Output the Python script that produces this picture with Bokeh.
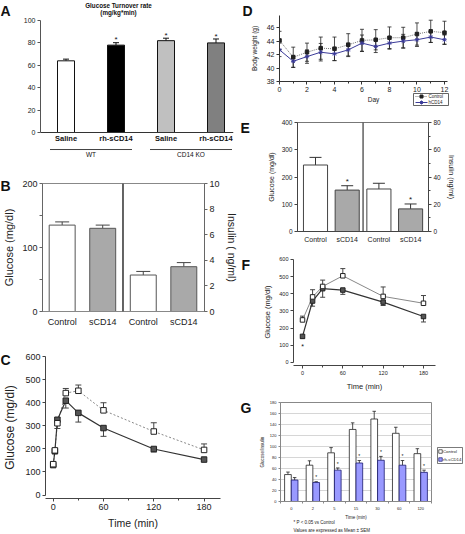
from bokeh.plotting import figure
from bokeh.layouts import row, column
from bokeh.models import (Range1d, LinearAxis, FixedTicker, Whisker, TeeHead, GridBox,
                          ColumnDataSource, Span)
from bokeh.core.properties import value
from bokeh.embed import file_html
from bokeh.resources import INLINE

# ---------------- data ----------------
a_treat = ["Saline", "rh-sCD14", "Saline", "rh-sCD14"]
a_geno = ["WT", "CD14 KO"]
a_rate = [64, 78, 82, 80]
a_rate_err = [1.5, 2.2, 2.2, 3.5]
a_sig = [False, True, True, True]

b_groups = ["Control", "sCD14"]
b_glucose = [135, 130]
b_glucose_err = [5, 5]
b_insulin = [2.85, 3.5]
b_insulin_err = [0.28, 0.32]

c_time = [0, 2, 5, 15, 30, 60, 120, 180]
c_control = [134, 194, 312, 443, 453, 368, 276, 196]
c_control_err = [10, 8, 8, 20, 25, 33, 38, 26]
c_scd14 = [130, 190, 327, 410, 357, 291, 200, 154]
c_scd14_err = [5, 5, 38, 32, 40, 36, 13, 6]

d_day = [0, 1, 2, 3, 4, 5, 6, 7, 8, 9, 10, 11, 12]
d_control = [44.1, 41.6, 42.35, 42.95, 42.85, 43.45, 44.1, 44.2, 44.5, 44.5, 45.05, 45.45, 45.25]
d_control_err = [1.35, 1.5, 1.35, 1.65, 1.75, 1.65, 1.65, 1.5, 1.6, 1.55, 1.65, 1.65, 1.7]
d_hcd14 = [42.7, 41.0, 41.7, 42.35, 42.1, 42.7, 43.7, 43.2, 43.7, 44.0, 44.2, 44.6, 44.2]
d_hcd14_err = [1.0, 0.9, 1.0, 1.3, 1.0, 1.0, 1.2, 0.9, 0.9, 1.0, 1.0, 0.8, 0.7]
d_series = ["Control", "hCD14"]

e_groups = ["Control", "sCD14"]
e_glucose = [244, 152]
e_glucose_err = [28, 16]
e_insulin = [31.2, 16.6]
e_insulin_err = [4.2, 3.6]
e_sig = [False, True]

f_time = [0, 15, 30, 60, 120, 180]
f_control = [248, 382, 443, 505, 385, 345]
f_control_err = [22, 42, 37, 42, 55, 45]
f_scd14 = [152, 358, 430, 422, 352, 268]
f_scd14_err = [10, 30, 50, 25, 20, 32]

g_time = ["0", "2", "5", "15", "30", "60", "120"]
g_control = [49, 66, 88.5, 131, 150, 124, 87]
g_control_err = [4.5, 8, 9.5, 12, 14, 11, 9]
g_rh = [39, 34.5, 57, 70, 75, 66, 53]
g_rh_err = [4.5, 1.5, 4, 4.5, 7, 8.5, 4]
g_sig = [False, True, True, True, True, True, True]
g_series = ["Control", "rh-sCD14"]

panel_letters = ["A", "B", "C", "D", "E", "F", "G"]
title_a = ["Glucose Turnover rate", "(mg/kg*min)"]
footnotes_g = ["* P < 0.05 vs Control", "Values are expressed as Mean \u00b1 SEM"]

# ---------------- helpers ----------------
FONT = "Liberation Sans"
PAGE_W, PAGE_H = 465, 534
REF_W, REF_H = 465, 534
SX = PAGE_W / REF_W
SY = PAGE_H / REF_H

D_CTRL_COL, D_H_COL = "#777777", "#3b3b98"
G_CTRL_FILL, G_RH_FILL, G_RH_LINE = "white", "#9999ff", "#1a1a70"


def fs(px):
    return f"{px * SY:.2f}px"


def make_fig(box, frame, xr, yr):
    bx0, by0, bx1, by1 = box
    fx0, fy0, fx1, fy1 = frame
    p = figure(width=round(bx1 * SX) - round(bx0 * SX),
               height=round(by1 * SY) - round(by0 * SY),
               min_border_left=round(fx0 * SX) - round(bx0 * SX),
               min_border_right=round(bx1 * SX) - round(fx1 * SX),
               min_border_top=round(fy0 * SY) - round(by0 * SY),
               min_border_bottom=round(by1 * SY) - round(fy1 * SY),
               x_range=Range1d(*xr), y_range=Range1d(*yr),
               output_backend="svg", toolbar_location=None)
    if "frame_align" in p.properties():
        p.frame_align = False
    p.grid.visible = False
    p.outline_line_color = None
    p.background_fill_color = "white"
    p.border_fill_color = "white"
    p.title.visible = False
    return p


def style_axis(ax, tick_fs, label_fs=None, color="#444", tick_out=3, minor_out=2,
               standoff=2, label_standoff=3):
    ax.axis_line_color = color
    ax.axis_line_width = 1
    ax.major_tick_line_color = color
    ax.minor_tick_line_color = color
    ax.major_tick_in = 0
    ax.major_tick_out = tick_out
    ax.minor_tick_in = 0
    ax.minor_tick_out = minor_out
    ax.major_label_text_font = FONT
    ax.major_label_text_font_size = fs(tick_fs)
    ax.major_label_text_color = "#222"
    ax.major_label_standoff = standoff
    ax.axis_label_text_font = FONT
    ax.axis_label_text_font_style = "normal"
    ax.axis_label_text_color = "#222"
    if label_fs:
        ax.axis_label_text_font_size = fs(label_fs)
    ax.axis_label_standoff = label_standoff


def whisk(p, x, lo, hi, color, size, up=True, down=False, width=1, **kw):
    src = ColumnDataSource(dict(x=x, lo=lo, hi=hi))
    w = Whisker(source=src, base="x", lower="lo", upper="hi", line_color=color,
                line_width=width,
                upper_head=TeeHead(size=size, line_color=color, line_width=width) if up else None,
                lower_head=TeeHead(size=size, line_color=color, line_width=width) if down else None,
                **kw)
    p.add_layout(w)


def stars(p, xs, ys, size, **kw):
    p.text(x=xs, y=ys, text=["*"] * len(xs), text_font=value(FONT), text_font_size=fs(size),
           text_align="center", text_baseline="middle", text_color="#111", **kw)


# ---------------- Panel A ----------------
boxA = (0, 0, 240, 163)
frA = (40, 20, 233, 160)
pA = make_fig(boxA, frA, (0.49, 4.35), (-25.0, 100))
xa = [i + 1 for i in range(len(a_rate))]
pA.vbar(x=xa, top=a_rate, width=0.34, bottom=0,
        fill_color=["#ffffff", "#000000", "#c0c0c0", "#808080"], line_color="#111", line_width=1)
whisk(pA, xa, a_rate, [v + e for v, e in zip(a_rate, a_rate_err)], "#111", 6)
stars(pA, [x for x, s in zip(xa, a_sig) if s],
      [v + e + 2.5 for v, e, s in zip(a_rate, a_rate_err, a_sig) if s], 8)
pA.add_layout(Span(location=0, dimension="width", line_color="#333", line_width=1))
pA.text(x=xa, y=[-5.6] * len(xa), text=a_treat, text_font=value(FONT), text_font_size=fs(7.5),
        text_font_style="bold", text_align="center", text_baseline="middle", text_color="#111")
ga = [1.5, 3.5]
pA.segment(x0=[g - 0.82 for g in ga], x1=[g + 0.82 for g in ga], y0=[-15.2] * 2, y1=[-15.2] * 2,
           line_color="#111", line_width=0.8)
pA.text(x=ga, y=[-19.8] * 2, text=a_geno, text_font=value(FONT), text_font_size=fs(6.5),
        text_align="center", text_baseline="middle", text_color="#111")
pA.xaxis.visible = False
ya = pA.yaxis[0]
ya.ticker = FixedTicker(ticks=[0, 20, 40, 60, 80, 100])
ya.bounds = (0, 100)
style_axis(ya, 7, color="#555")

# ---------------- Panel B ----------------
boxB = (0, 163, 240, 330)
frB = (40, 183, 209, 311)
pB = make_fig(boxB, frB, (0.515, 4.51), (0, 200))
pB.extra_y_ranges = {"ins": Range1d(0, 10)}
pB.outline_line_color = "#888"
xg = [1, 2]
xi = [3, 4]
bar_cols = ["#ffffff", "#a9a9a9"]
pB.vbar(x=xg, top=b_glucose, width=0.64, fill_color=bar_cols, line_color="#555", line_width=1)
pB.vbar(x=xi, top=b_insulin, width=0.64, fill_color=bar_cols, line_color="#555", line_width=1,
        y_range_name="ins")
whisk(pB, xg, b_glucose, [v + e for v, e in zip(b_glucose, b_glucose_err)], "#444", 14)
whisk(pB, xi, b_insulin, [v + e for v, e in zip(b_insulin, b_insulin_err)], "#444", 14,
      y_range_name="ins")
pB.add_layout(Span(location=2.5, dimension="height", line_color="#111", line_width=1.3))
xb = pB.xaxis[0]
xb.ticker = FixedTicker(ticks=xg + xi)
xb.major_label_overrides = {1: b_groups[0], 2: b_groups[1], 3: b_groups[0], 4: b_groups[1]}
style_axis(xb, 9, color="#888", tick_out=0, standoff=5)
xb.major_tick_line_color = None
yb = pB.yaxis[0]
yb.ticker = FixedTicker(ticks=[0, 50, 100, 150, 200])
yb.major_label_overrides = {50: "", 150: ""}
yb.axis_label = "Glucose (mg/dl)"
style_axis(yb, 9, 11, color="#666", standoff=2, label_standoff=4)
rb = LinearAxis(y_range_name="ins", ticker=FixedTicker(ticks=[0, 2, 4, 6, 8, 10]),
                axis_label="Insulin ( ng/ml)")
style_axis(rb, 9, 10.5, color="#666", standoff=2, label_standoff=3)
pB.add_layout(rb, "right")

# ---------------- Panel C ----------------
boxC = (0, 330, 240, 534)
frC = (39, 356, 220, 498)
pC = make_fig(boxC, frC, (-9.2, 199.6), (-15.2, 602))
pC.line(c_time, c_control, line_color="#888", line_width=1, line_dash="2 2")
pC.line(c_time, c_scd14, line_color="#333", line_width=1.2)
whisk(pC, c_time, c_control, [v + e for v, e in zip(c_control, c_control_err)], "#444", 6)
whisk(pC, c_time, [v - e for v, e in zip(c_scd14, c_scd14_err)], c_scd14, "#444", 6,
      up=False, down=True)
pC.scatter(c_time, c_scd14, marker="square", size=5.5, fill_color="#555", line_color="#222")
pC.scatter(c_time, c_control, marker="square", size=5.5, fill_color="white", line_color="#222")
xc = pC.xaxis[0]
xc.ticker = FixedTicker(ticks=[0, 60, 120, 180], minor_ticks=[30, 90, 150])
xc.axis_label = "Time (min)"
style_axis(xc, 9, 10.5, color="#444", standoff=2, label_standoff=4)
ycx = pC.yaxis[0]
ycx.ticker = FixedTicker(ticks=[0, 100, 200, 300, 400, 500, 600])
ycx.bounds = (0, 600)
ycx.axis_label = "Glucose (mg/dl)"
style_axis(ycx, 9, 12, color="#444", standoff=2, label_standoff=5)

# ---------------- Panel D ----------------
boxD = (240, 0, 465, 112)
frD = (279, 15, 447, 81)
pD = make_fig(boxD, frD, (0, 12.22), (38, 47.8))
pD.line(d_day, d_control, line_color=D_CTRL_COL, line_width=1, line_dash="1 1")
pD.line(d_day, d_hcd14, line_color=D_H_COL, line_width=1)
whisk(pD, d_day, [v - e for v, e in zip(d_control, d_control_err)],
      [v + e for v, e in zip(d_control, d_control_err)], "#222", 4, up=True, down=True, width=0.8)
whisk(pD, d_day, [v - e for v, e in zip(d_hcd14, d_hcd14_err)],
      [v + e for v, e in zip(d_hcd14, d_hcd14_err)], "#222", 4, up=True, down=True, width=0.8)
pD.scatter(d_day, d_control, marker="square", size=3.5, fill_color="#222", line_color="#222")
pD.scatter(d_day, d_hcd14, marker="asterisk", size=4.5, line_color=D_H_COL, line_width=1)
xd = pD.xaxis[0]
xd.ticker = FixedTicker(ticks=[0, 2, 4, 6, 8, 10, 12], minor_ticks=[1, 3, 5, 7, 9, 11])
style_axis(xd, 7, color="#333", standoff=2)
yd = pD.yaxis[0]
yd.ticker = FixedTicker(ticks=[38, 40, 42, 44, 46])
yd.axis_label = "Body weight (g)"
style_axis(yd, 7, 6.5, color="#333", standoff=2, label_standoff=6)

# ---------------- Panel E ----------------
boxE = (240, 112, 465, 250)
frE = (297, 122, 428, 231)
pE = make_fig(boxE, frE, (0.432, 4.565), (0, 400))
pE.extra_y_ranges = {"ins": Range1d(0, 80)}
pE.outline_line_color = "#777"
pE.vbar(x=xg, top=e_glucose, width=0.76, fill_color=bar_cols, line_color="#444", line_width=1)
pE.vbar(x=xi, top=e_insulin, width=0.76, fill_color=bar_cols, line_color="#444", line_width=1,
        y_range_name="ins")
whisk(pE, xg, e_glucose, [v + e for v, e in zip(e_glucose, e_glucose_err)], "#333", 12)
whisk(pE, xi, e_insulin, [v + e for v, e in zip(e_insulin, e_insulin_err)], "#333", 12,
      y_range_name="ins")
stars(pE, [x for x, s in zip(xg, e_sig) if s],
      [v + e + 17 for v, e, s in zip(e_glucose, e_glucose_err, e_sig) if s], 8)
stars(pE, [x for x, s in zip(xi, e_sig) if s],
      [v + e + 3.2 for v, e, s in zip(e_insulin, e_insulin_err, e_sig) if s], 8,
      y_range_name="ins")
pE.add_layout(Span(location=2.5, dimension="height", line_color="#111", line_width=1))
xe = pE.xaxis[0]
xe.ticker = FixedTicker(ticks=xg + xi)
xe.major_label_overrides = {1: e_groups[0], 2: e_groups[1], 3: e_groups[0], 4: e_groups[1]}
style_axis(xe, 7, color="#444", tick_out=0, standoff=4)
xe.major_tick_line_color = None
ye = pE.yaxis[0]
ye.ticker = FixedTicker(ticks=[0, 100, 200, 300, 400])
ye.axis_label = "Glucose (mg/dl)"
style_axis(ye, 6.5, 7, color="#444", standoff=2, label_standoff=4)
re_ = LinearAxis(y_range_name="ins", ticker=FixedTicker(ticks=[0, 20, 40, 60, 80],
                                                       minor_ticks=[10, 30, 50, 70]),
                 axis_label="Insulin (ng/ml)")
style_axis(re_, 6.5, 7, color="#444", standoff=2, label_standoff=4)
pE.add_layout(re_, "right")

# ---------------- Panel F ----------------
boxF = (240, 250, 465, 395)
frF = (293, 258, 435, 365)
pF = make_fig(boxF, frF, (-13.4, 197.9), (-17.5, 605.8))
pF.line(f_time, f_control, line_color="#888", line_width=1)
pF.line(f_time, f_scd14, line_color="#333", line_width=1.2)
whisk(pF, f_time, f_control, [v + e for v, e in zip(f_control, f_control_err)], "#444", 5)
whisk(pF, f_time, [v - e for v, e in zip(f_scd14, f_scd14_err)], f_scd14, "#444", 5,
      up=False, down=True)
pF.scatter(f_time, f_scd14, marker="square", size=4.5, fill_color="#555", line_color="#222")
pF.scatter(f_time, f_control, marker="square", size=4.5, fill_color="white", line_color="#222")
stars(pF, [f_time[0]], [f_scd14[0] - f_scd14_err[0] - 48], 7)
xf = pF.xaxis[0]
xf.ticker = FixedTicker(ticks=[0, 60, 120, 180], minor_ticks=[30, 90, 150])
xf.axis_label = "Time (min)"
style_axis(xf, 5.5, 7.5, color="#444", standoff=2, label_standoff=4)
yf = pF.yaxis[0]
yf.ticker = FixedTicker(ticks=[0, 100, 200, 300, 400, 500, 600])
yf.bounds = (0, 600)
yf.axis_label = "Glucose (mg/dl)"
style_axis(yf, 5.5, 7.5, color="#444", standoff=2, label_standoff=4)

# ---------------- Panel G ----------------
boxG = (240, 395, 465, 534)
frG = (280, 402, 431, 501)
pG = make_fig(boxG, frG, (-0.5, len(g_time) - 0.5), (0, 180))
pG.outline_line_color = "#888"
pG.ygrid.visible = True
pG.ygrid.grid_line_color = "#c4c4c4"
pG.ygrid.grid_line_width = 0.7
xgi = list(range(len(g_time)))
xgc = [x - 0.155 for x in xgi]
xgr = [x + 0.155 for x in xgi]
pG.vbar(x=xgc, top=g_control, width=0.31, fill_color=G_CTRL_FILL, line_color="#222", line_width=0.8)
pG.vbar(x=xgr, top=g_rh, width=0.31, fill_color=G_RH_FILL, line_color=G_RH_LINE, line_width=0.8)
whisk(pG, xgc, g_control, [v + e for v, e in zip(g_control, g_control_err)], "#222", 3.5, width=0.8)
whisk(pG, xgr, g_rh, [v + e for v, e in zip(g_rh, g_rh_err)], "#222", 3.5, width=0.8)
stars(pG, [x for x, s in zip(xgr, g_sig) if s],
      [v + e + 8 for v, e, s in zip(g_rh, g_rh_err, g_sig) if s], 5)
xgax = pG.xaxis[0]
xgax.ticker = FixedTicker(ticks=xgi, minor_ticks=[x - 0.5 for x in xgi] + [len(g_time) - 0.5])
xgax.major_label_overrides = {i: t for i, t in enumerate(g_time)}
xgax.axis_label = "Time (min)"
style_axis(xgax, 4, 4.5, color="#888", tick_out=0, minor_out=2, standoff=3, label_standoff=2)
xgax.major_tick_line_color = None
ygax = pG.yaxis[0]
ygax.ticker = FixedTicker(ticks=[0, 20, 40, 60, 80, 100, 120, 140, 160, 180])
ygax.axis_label = "Glucose/Insulin"
style_axis(ygax, 4, 4.5, color="#888", tick_out=2, standoff=2, label_standoff=2)

# ---------------- overlay: texts and legends outside the plot frames ----------------
ov = figure(width=PAGE_W, height=PAGE_H, x_range=Range1d(0, REF_W), y_range=Range1d(REF_H, 0),
            min_border=0, output_backend="svg", toolbar_location=None)
if "frame_align" in ov.properties():
    ov.frame_align = False
ov.axis.visible = False
ov.grid.visible = False
ov.title.visible = False
ov.outline_line_color = None
ov.background_fill_alpha = 0
ov.border_fill_alpha = 0
ov.text(x=[0, 0, 0, 242, 240, 241, 240], y=[2, 177, 351, 2, 119, 256, 399], text=panel_letters,
        text_font=value(FONT), text_font_size=fs(14), text_font_style="bold",
        text_align="left", text_baseline="top", text_color="#111")
ov.text(x=[118, 118], y=[1, 8.5], text=title_a, text_font=value(FONT), text_font_size=fs(6.3),
        text_font_style="bold", text_align="center", text_baseline="top", text_color="#111")
ov.text(x=[373], y=[99], text=["Day"], text_font=value(FONT), text_font_size=fs(6.5),
        text_align="center", text_baseline="middle", text_color="#222")
ov.text(x=[293, 293], y=[522, 529.5], text=footnotes_g, text_font=value(FONT),
        text_font_size=fs(4.5), text_align="left", text_baseline="middle", text_color="#222")

# legend of panel D
ov.quad(left=[413], right=[448], top=[93], bottom=[105], fill_color="white",
        line_color="#222", line_width=0.7)
ov.line(x=[415, 427], y=[96, 96], line_color=D_CTRL_COL, line_width=1, line_dash="1 1")
ov.scatter(x=[421], y=[96], marker="square", size=3, fill_color="#222", line_color="#222")
ov.line(x=[415, 427], y=[102, 102], line_color=D_H_COL, line_width=1)
ov.scatter(x=[421], y=[102], marker="asterisk", size=4, line_color=D_H_COL, line_width=1)
ov.text(x=[428, 428], y=[96, 102], text=d_series, text_font=value(FONT),
        text_font_size=fs(4.5), text_align="left", text_baseline="middle", text_color="#222")

# legend of panel G
ov.quad(left=[437], right=[462], top=[447], bottom=[463], fill_color="white",
        line_color="#222", line_width=0.6)
ov.scatter(x=[440, 440], y=[451, 459], marker="square", size=3.5,
           fill_color=[G_CTRL_FILL, G_RH_FILL], line_color=["#222", G_RH_LINE], line_width=0.7)
ov.text(x=[442.5, 442.5], y=[451, 459], text=g_series, text_font=value(FONT),
        text_font_size=fs(4.3), text_align="left", text_baseline="middle", text_color="#222")

main = row(column(pA, pB, pC), column(pD, pE, pF, pG))
root = GridBox(children=[(main, 0, 0), (ov, 0, 0)])
open("out.html", "w").write(file_html(root, INLINE))
